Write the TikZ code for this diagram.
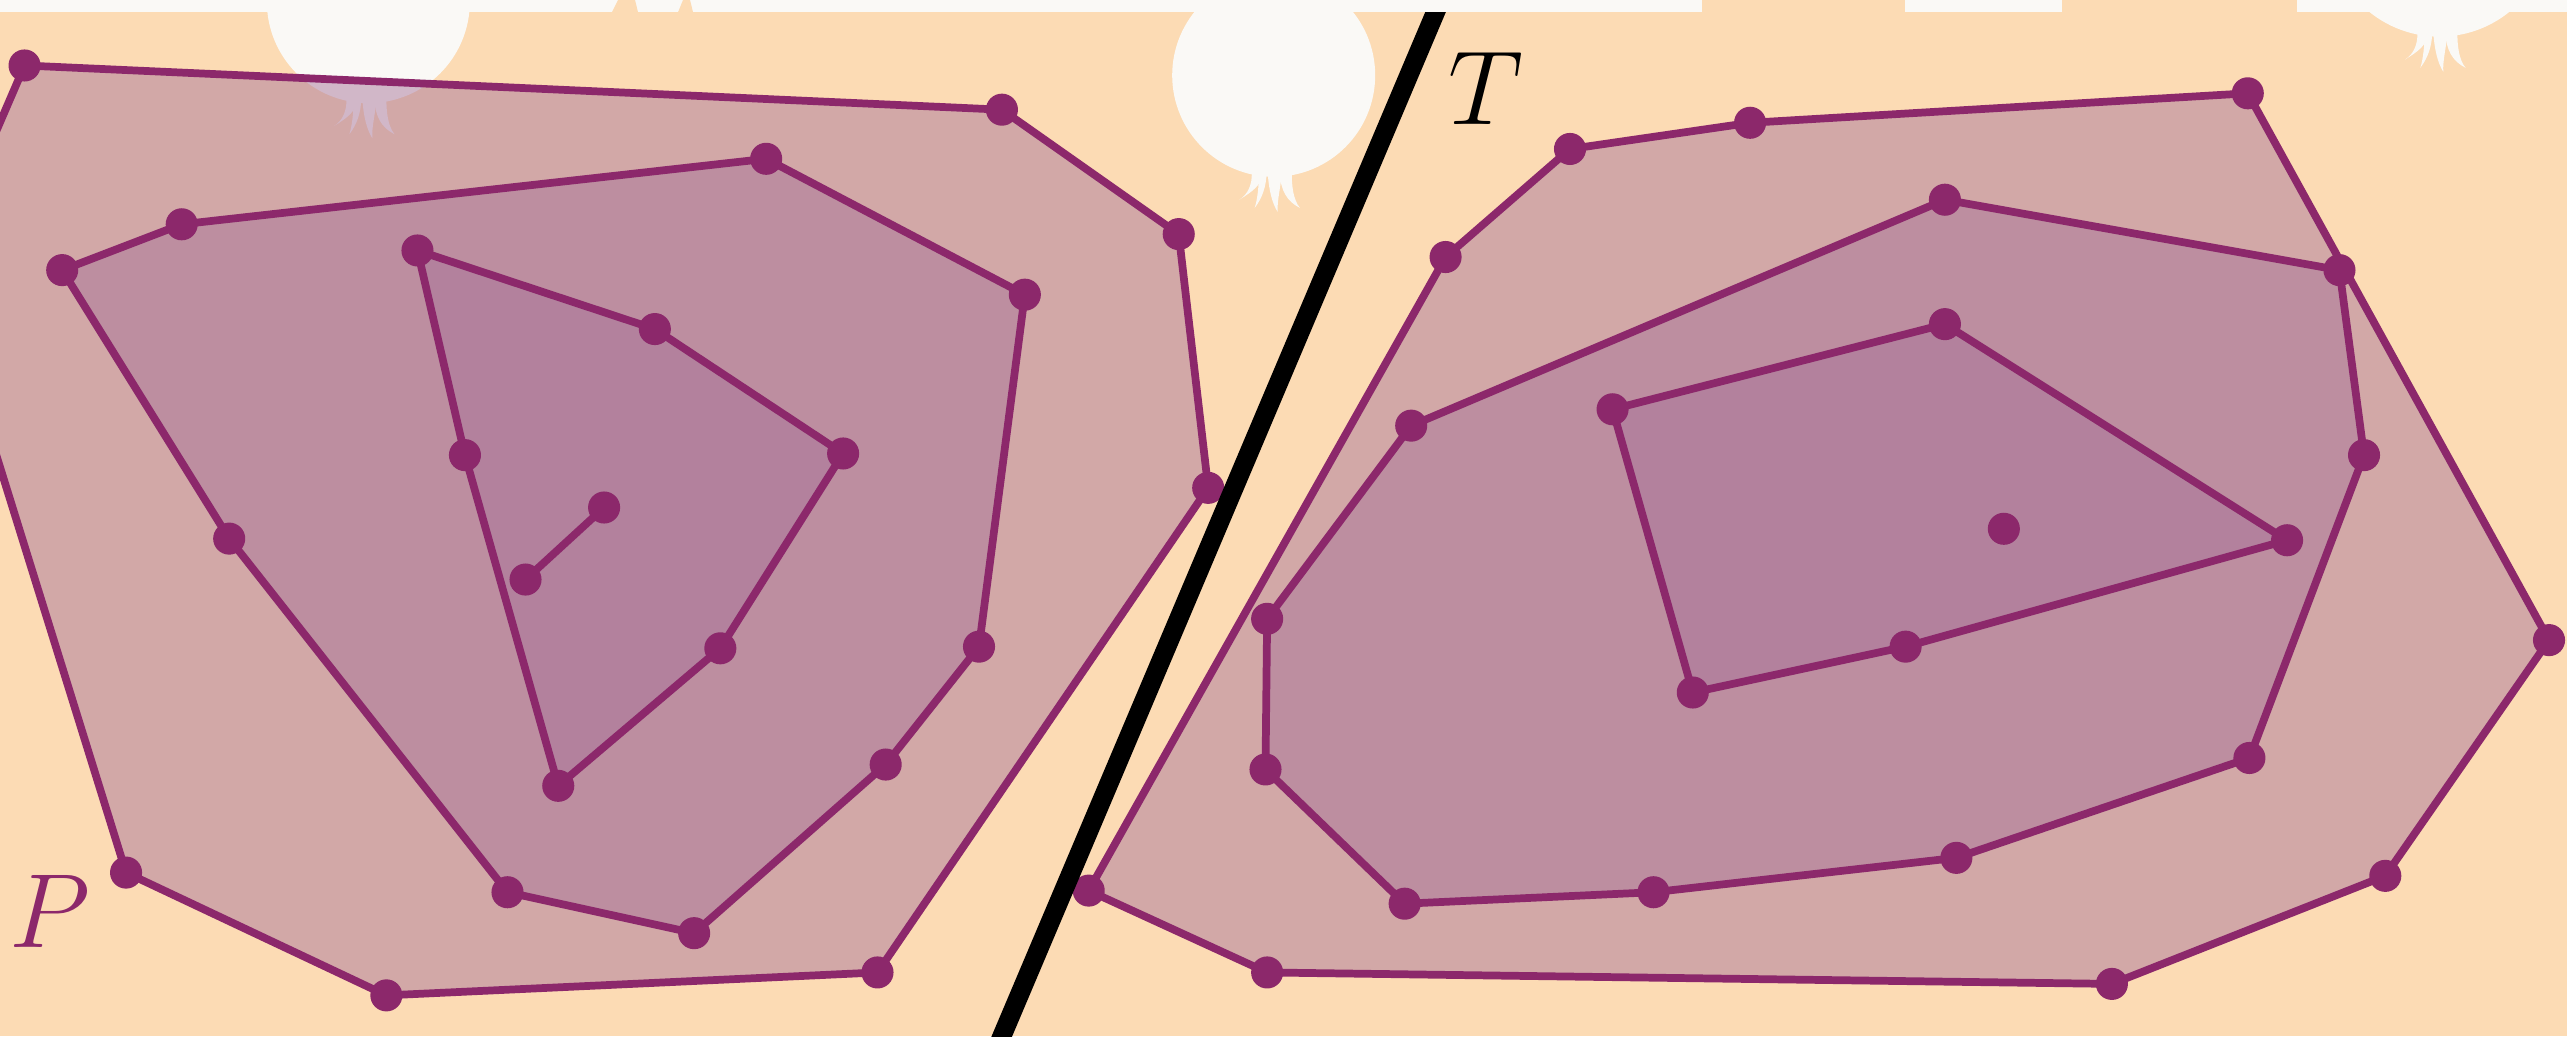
\RequirePackage{fix-cm}
\documentclass[tikz,border=0pt]{standalone}
\definecolor{bgpeach}{RGB}{252,219,180}
\definecolor{blobwhite}{RGB}{250,249,246}
\definecolor{edgepurple}{RGB}{140,40,107}
\definecolor{hullfill}{RGB}{170,118,155}

% white onion-like blob hanging from the top band: centre x, centre y, radius
\newcommand{\onionblob}[3]{%
  \begin{scope}[shift={(#1,#2)}]
    \fill[blobwhite] (0,0) circle[radius=#3];
    \begin{scope}[shift={(0,#3)}]
      \fill[blobwhite] (-13.4,-3) .. controls (-13,5) and (-16,11) .. (-21,14)
        .. controls (-13,9) and (-7,5) .. (-6.7,-3) -- cycle;
      \fill[blobwhite] (-9,-3) .. controls (-9,6) and (-10,14) .. (-11.6,19)
        .. controls (-7,13) and (-4.5,6) .. (-4.3,-3) -- cycle;
      \fill[blobwhite] (-3.7,-3) .. controls (-3,8) and (-1,16) .. (2.4,21.4)
        .. controls (2,14) and (4.5,6) .. (4.9,-3) -- cycle;
      \fill[blobwhite] (3.7,-3) .. controls (4,8) and (8,15) .. (16,19)
        .. controls (12,14) and (11,6) .. (11,-3) -- cycle;
    \end{scope}
  \end{scope}}

\begin{document}
\begin{tikzpicture}[x=0.016372cm, y=-0.016372cm,
  hull/.style={draw=edgepurple, line width=2.2pt, line join=round,
               fill=hullfill, fill opacity=0.5},
  seg/.style={draw=edgepurple, line width=2.2pt},
  vdot/.style={fill=edgepurple},
  divider/.style={draw=black, line width=5.4pt},
  lbl/.style={inner sep=0pt, font=\fontsize{30}{36}\selectfont}]

\useasboundingbox (0,0) rectangle (1568,633);
\clip (0,0) rectangle (1568,633);

% background
\fill[bgpeach] (0,0) rectangle (1568,633);

% decorative blobs behind everything
\onionblob{225}{1}{62}
\onionblob{778}{46}{62}
\onionblob{1490}{-45.6}{68}

% ---- left hull family P ----
\coordinate (a0) at (-38,163);
\coordinate (a1) at (15,40);
\coordinate (a2) at (612,67);
\coordinate (a3) at (720,143);
\coordinate (a4) at (738,298);
\coordinate (a5) at (536,594);
\coordinate (a6) at (236,608);
\coordinate (a7) at (77,533);

\coordinate (b1) at (38,165);
\coordinate (b2) at (111,137);
\coordinate (b3) at (468,97);
\coordinate (b4) at (626,180);
\coordinate (b5) at (598,395);
\coordinate (b6) at (541,467);
\coordinate (b7) at (424,570);
\coordinate (b8) at (310,545);
\coordinate (b9) at (140,329);

\coordinate (c1) at (255,153);
\coordinate (c2) at (400,201);
\coordinate (c3) at (515,277);
\coordinate (c4) at (440,396);
\coordinate (c5) at (341,480);
\coordinate (c6) at (284,278);

\coordinate (d1) at (321,354);
\coordinate (d2) at (369,310);

% ---- right hull family T ----
\coordinate (e1) at (883,157);
\coordinate (e2) at (959,91);
\coordinate (e3) at (1069,75);
\coordinate (e4) at (1373,57);
\coordinate (e5) at (1557,391);
\coordinate (e6) at (1457,535);
\coordinate (e7) at (1290,601);
\coordinate (e8) at (774,594);
\coordinate (e9) at (665,544);

\coordinate (f1) at (862,260);
\coordinate (f2) at (1188,122);
\coordinate (f3) at (1429,165);
\coordinate (f4) at (1444,278);
\coordinate (f5) at (1374,463);
\coordinate (f6) at (1195,524);
\coordinate (f7) at (1010,545);
\coordinate (f8) at (858,552);
\coordinate (f9) at (773,470);
\coordinate (f10) at (774,378);

\coordinate (g1) at (985,250);
\coordinate (g2) at (1188,198);
\coordinate (g3) at (1397,330);
\coordinate (g4) at (1164,395);
\coordinate (g5) at (1034,423);

\coordinate (h1) at (1224,323);

% nested hulls
\draw[hull] (a0) -- (a1) -- (a2) -- (a3) -- (a4) -- (a5) -- (a6) -- (a7) -- cycle;
\draw[hull] (b1) -- (b2) -- (b3) -- (b4) -- (b5) -- (b6) -- (b7) -- (b8) -- (b9) -- cycle;
\draw[hull] (c1) -- (c2) -- (c3) -- (c4) -- (c5) -- (c6) -- cycle;
\draw[seg] (d1) -- (d2);

\draw[hull] (e1) -- (e2) -- (e3) -- (e4) -- (e5) -- (e6) -- (e7) -- (e8) -- (e9) -- cycle;
\draw[hull] (f1) -- (f2) -- (f3) -- (f4) -- (f5) -- (f6) -- (f7) -- (f8) -- (f9) -- (f10) -- cycle;
\draw[hull] (g1) -- (g2) -- (g3) -- (g4) -- (g5) -- cycle;

% vertices
\foreach \p in {a1,a2,a3,a4,a5,a6,a7,b1,b2,b3,b4,b5,b6,b7,b8,b9,
                c1,c2,c3,c4,c5,c6,d1,d2,
                e1,e2,e3,e4,e5,e6,e7,e8,e9,
                f1,f2,f3,f4,f5,f6,f7,f8,f9,f10,
                g1,g2,g3,g4,g5,h1}
  \fill[vdot] (\p) circle[radius=9.8];

% separating line
\coordinate (sepbot) at (609,640);
\coordinate (septop) at (880,0);
\draw[divider] (sepbot) -- (septop);

% white band along the top edge
\fill[blobwhite] (0,0) rectangle (1039.6,7.33);
\fill[blobwhite] (1163.6,0) rectangle (1259.4,7.33);
\fill[blobwhite] (1403,0) rectangle (1568,7.33);
\fill[bgpeach] (373.8,7.4) -- (377.5,0) -- (387.9,0) -- (389.7,7.4) -- cycle;
\fill[bgpeach] (414.2,7.4) -- (417.2,0) -- (421.5,0) -- (423.3,7.4) -- cycle;

% labels
\node[lbl, text=black] (labelT) at (907.7,53.8) {$T$};
\node[lbl, text=edgepurple] (labelP) at (30.5,557) {$P$};

\end{tikzpicture}
\end{document}
